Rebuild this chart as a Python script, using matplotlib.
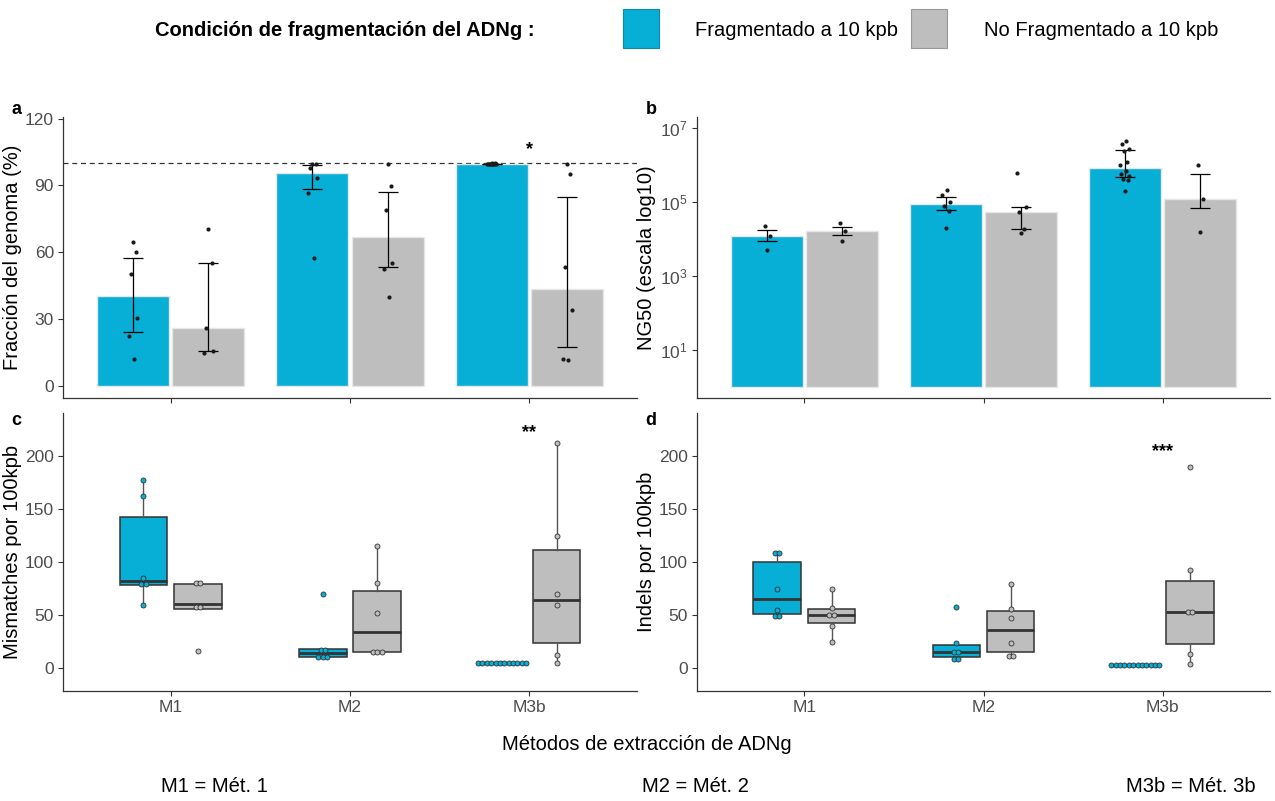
import numpy as np
import matplotlib
matplotlib.use('Agg')
import matplotlib.pyplot as plt
from matplotlib.patches import Rectangle

plt.rcParams['font.family'] = ['Liberation Sans', 'DejaVu Sans']
plt.rcParams['mathtext.fontset'] = 'custom'
plt.rcParams['mathtext.rm'] = 'Liberation Sans'
plt.rcParams['mathtext.it'] = 'Liberation Sans:italic'
plt.rcParams['mathtext.bf'] = 'Liberation Sans:bold'

# ---- data ----
metodos = ['M1', 'M2', 'M3b']
condiciones = ['Fragmentado a 10 kpb', 'No Fragmentado a 10 kpb']
colores = ['#07AED5', '#BEBEBE']

# a: fracción del genoma (%)
frac_frag = [[64.6, 60.1, 50.1, 30.5, 22.3, 12.1],
             [99.4, 99.4, 97.6, 93.4, 86.6, 57.4],
             [99.9, 99.9, 99.8, 99.8, 99.8, 99.7, 99.7, 99.7, 99.6, 99.6, 99.5, 99.5]]
frac_nofrag = [[70.5, 55.0, 26.2, 15.7, 15.0],
               [99.8, 89.8, 79.0, 55.0, 52.7, 40.0],
               [99.8, 95.1, 53.4, 34.0, 12.1, 11.7]]

# b: NG50
ng50_frag = [[5.25e3, 1.26e4, 2.24e4],
             [2.05e4, 5.7e4, 7.9e4, 1.05e5, 1.55e5, 2.1e5],
             [2.0e5, 4.0e5, 4.4e5, 5.1e5, 5.8e5, 7.1e5, 1.0e6, 1.2e6, 2.5e6, 2.8e6, 3.9e6, 4.6e6]]
ng50_nofrag = [[9.1e3, 1.66e4, 2.69e4],
               [1.45e4, 1.9e4, 5.4e4, 7.4e4, 6.3e5],
               [1.6e4, 1.2e5, 1.05e6]]

# c: mismatches por 100 kpb
mism_frag = [[59, 78, 80, 85, 162, 177],
             [9, 10, 12, 16, 18, 70],
             [4.2, 4.3, 4.5, 4.5, 4.6, 4.7, 4.7, 4.8, 4.9, 5.0, 5.1, 5.2]]
mism_nofrag = [[16, 56, 60, 79, 82],
               [14, 15, 16, 52, 80, 115],
               [5, 12, 59, 70, 125, 212]]

# d: indels por 100 kpb
indel_frag = [[48, 50, 55, 75, 108, 109],
              [8, 9, 15, 16, 24, 58],
              [2.8, 2.9, 3.0, 3.0, 3.1, 3.1, 3.2, 3.2, 3.3, 3.3, 3.4, 3.5]]
indel_nofrag = [[25, 40, 48, 52, 57, 75],
                [11, 12, 24, 47, 56, 79],
                [4, 13, 52, 54, 92, 190]]

signif_a = '*'
signif_c = '**'
signif_d = '***'

# ---- layout ----
W, H = 1275, 801
fig = plt.figure(figsize=(W / 100, H / 100), dpi=100)


def px_axes(l, t, r, b):
    return fig.add_axes([l / W, 1 - b / H, (r - l) / W, (b - t) / H])


def style(ax, labels=False):
    for s in ['top', 'right']:
        ax.spines[s].set_visible(False)
    for s in ['left', 'bottom']:
        ax.spines[s].set_color('#333333')
        ax.spines[s].set_linewidth(0.9)
    ax.tick_params(colors='#333333', labelcolor='#4D4D4D', labelsize=12.5,
                   length=3.5, width=0.8, pad=3)
    ax.set_xlim(0.4, 3.6)
    ax.set_xticks(np.arange(1, 4))
    ax.set_xticklabels(metodos if labels else [])
    ax.yaxis.set_label_coords(-0.072, 0.5)


x = np.arange(1, 4)
# small fixed horizontal spread for the points (no randomness)
jit = np.array([0.0, 0.018, -0.012, 0.025, -0.022, 0.008, -0.028, 0.014, -0.006, 0.022, -0.017, 0.004])


def bar_panel(ax, series, bottom=0.0):
    for j, data in enumerate(series):
        xs = x + (-0.21, 0.21)[j]
        med = np.array([np.median(v) for v in data])
        q1 = np.array([np.percentile(v, 25) for v in data])
        q3 = np.array([np.percentile(v, 75) for v in data])
        ax.bar(xs, med - bottom, bottom=bottom, width=0.4, color=colores[j],
               edgecolor='#E6E6E6', linewidth=1.0, zorder=2)
        ax.errorbar(xs, med, yerr=[med - q1, q3 - med], fmt='none', ecolor='black',
                    elinewidth=0.9, capsize=7.5, capthick=0.9, zorder=4)
        for k, v in enumerate(data):
            ax.scatter(xs[k] + jit[:len(v)], v, s=9, color='#1A1A1A', lw=0, zorder=5)


def dotplot(ax, x0, vals, bw, color):
    # dot-density binning, dots of a bin stacked sideways around x0
    v = np.sort(np.asarray(vals, dtype=float))
    dx = 0.0245
    i = 0
    while i < len(v):
        j = i
        while j + 1 < len(v) and v[j + 1] - v[i] < bw:
            j += 1
        grp = v[i:j + 1]
        yc = (grp[0] + grp[-1]) / 2
        m = len(grp)
        xs = x0 + (np.arange(m) - (m - 1) / 2) * dx
        ax.scatter(xs, [yc] * m, s=13, facecolor=color, edgecolor='#333333',
                   linewidth=0.6, zorder=5)
        i = j + 1


def box_panel(ax, series):
    allv = np.concatenate([np.concatenate([np.asarray(v, float) for v in d]) for d in series])
    bw = (allv.max() - allv.min()) / 30
    for j, data in enumerate(series):
        xs = x + (-0.152, 0.152)[j]
        ax.boxplot(data, positions=xs, widths=0.265, patch_artist=True,
                   showfliers=False, showcaps=False, manage_ticks=False,
                   boxprops=dict(facecolor=colores[j], edgecolor='#333333', linewidth=1.1),
                   medianprops=dict(color='#333333', linewidth=2.0),
                   whiskerprops=dict(color='#555555', linewidth=1.0),
                   zorder=3)
        for k, v in enumerate(data):
            dotplot(ax, xs[k], v, bw, colores[j])


# a
ax_a = px_axes(63, 117, 637, 398)
style(ax_a)
bar_panel(ax_a, [frac_frag, frac_nofrag])
ax_a.axhline(100, color='#333333', lw=0.9, ls=(0, (4, 3)), zorder=1)
ax_a.set_ylim(-5.4, 120.7)
ax_a.set_yticks([0, 30, 60, 90, 120])
ax_a.set_ylabel('Fracción del genoma (%)', fontsize=14.5)
ax_a.text(3, 106, signif_a, ha='center', va='center', fontsize=13, fontweight='bold')

# b
ax_b = px_axes(697, 117, 1270, 398)
style(ax_b)
ax_b.set_yscale('log')
bar_panel(ax_b, [ng50_frag, ng50_nofrag], bottom=1.0)
ax_b.set_ylim(10 ** -0.30, 10 ** 7.31)
ax_b.set_yticks([1e1, 1e3, 1e5, 1e7])
ax_b.set_yticklabels(['$10^{1}$', '$10^{3}$', '$10^{5}$', '$10^{7}$'])
ax_b.minorticks_off()
ax_b.set_ylabel('NG50 (escala log10)', fontsize=14.5)

# c
ax_c = px_axes(63, 413, 637, 691)
style(ax_c, labels=True)
box_panel(ax_c, [mism_frag, mism_nofrag])
ax_c.set_ylim(-21.7, 240.6)
ax_c.set_yticks([0, 50, 100, 150, 200])
ax_c.set_ylabel('Mismatches por 100kpb', fontsize=14.5)
ax_c.text(3, 222, signif_c, ha='center', va='center', fontsize=13, fontweight='bold')

# d
ax_d = px_axes(697, 413, 1270, 691)
style(ax_d, labels=True)
box_panel(ax_d, [indel_frag, indel_nofrag])
ax_d.set_ylim(-21.7, 240.6)
ax_d.set_yticks([0, 50, 100, 150, 200])
ax_d.set_ylabel('Indels por 100kpb', fontsize=14.5)
ax_d.text(3, 204, signif_d, ha='center', va='center', fontsize=13, fontweight='bold')

# panel letters
for lab, (px, py) in zip('abcd', [(16, 109), (651, 109), (16, 421), (651, 421)]):
    fig.text(px / W, 1 - py / H, lab, fontsize=13, fontweight='bold', ha='center', va='center')

# legend
fig.text(155 / W, 1 - 30 / H, 'Condición de fragmentación del ADNg :', fontsize=14.5,
         fontweight='bold', ha='left', va='center')
sw = [(623, colores[0], '#0A8AAA'), (911, colores[1], '#999999')]
lx = [695, 984]
for (sx, fc, ec), tx, lab in zip(sw, lx, condiciones):
    fig.patches.append(Rectangle((sx / W, 1 - 48 / H), 36 / W, 39 / H, facecolor=fc,
                                 edgecolor=ec, linewidth=0.8, transform=fig.transFigure))
    fig.text(tx / W, 1 - 30 / H, lab, fontsize=14.5, ha='left', va='center')

# bottom texts
fig.text(647 / W, 1 - 745 / H, 'Métodos de extracción de ADNg', fontsize=14.5, ha='center', va='center')
fig.text(161 / W, 1 - 787 / H, 'M1 = Mét. 1', fontsize=14.5, ha='left', va='center')
fig.text(642 / W, 1 - 787 / H, 'M2 = Mét. 2', fontsize=14.5, ha='left', va='center')
fig.text(1256 / W, 1 - 787 / H, 'M3b = Mét. 3b', fontsize=14.5, ha='right', va='center')

fig.savefig('out.png', dpi=100)
